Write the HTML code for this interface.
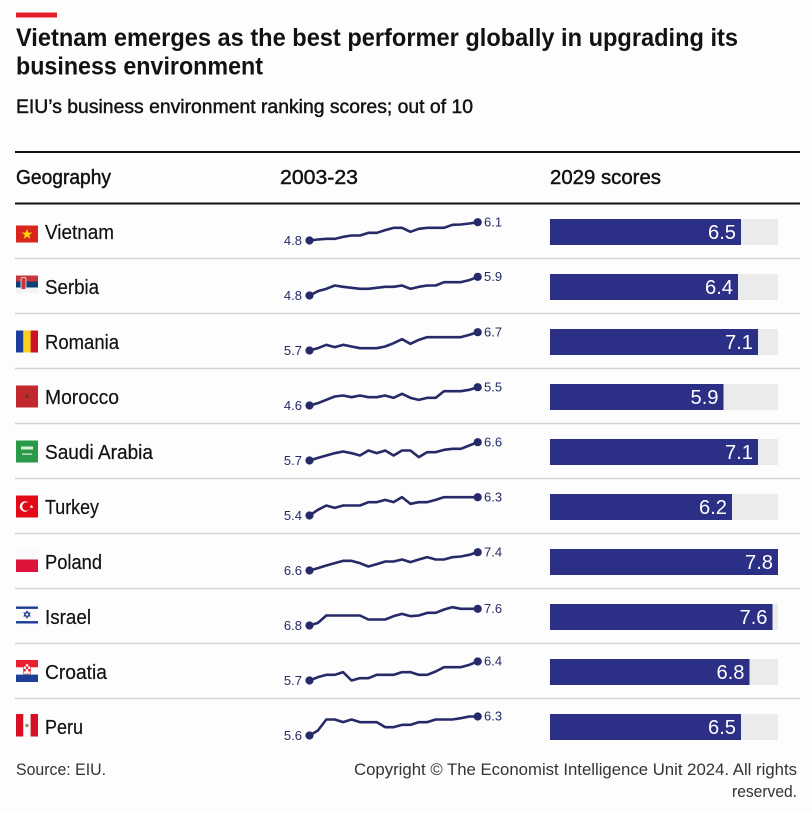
<!DOCTYPE html>
<html><head><meta charset="utf-8"><style>
html,body{margin:0;padding:0;background:#fdfdfd;}
svg{display:block;}
text{font-family:"Liberation Sans",Arial,sans-serif;}
.t{fill:#121212;}
.m{stroke:#121212;stroke-width:0.45;}
.sp{fill:none;stroke:#262a68;stroke-width:2.6;stroke-linejoin:round;stroke-linecap:round;vector-effect:non-scaling-stroke;}
.lab{font-size:13px;fill:#262a68;}
.bl{font-size:20px;fill:#fff;}
.cn{font-size:20px;fill:#121212;stroke:#121212;stroke-width:0.2;}
</style></head><body>
<svg width="812" height="813" viewBox="0 0 812 813" xmlns="http://www.w3.org/2000/svg">
<rect width="812" height="813" fill="#fdfdfd"/>
<!-- header -->
<rect x="16" y="12.5" width="41" height="5" fill="#e3202a"/>
<text class="t" x="16" y="46" font-size="25" font-weight="bold" textLength="722" lengthAdjust="spacingAndGlyphs">Vietnam emerges as the best performer globally in upgrading its</text>
<text class="t" x="16" y="74.5" font-size="25" font-weight="bold" textLength="247" lengthAdjust="spacingAndGlyphs">business environment</text>
<text class="t m" x="16" y="113" font-size="19.5" textLength="457" lengthAdjust="spacingAndGlyphs">EIU’s business environment ranking scores; out of 10</text>

<line x1="15" y1="152" x2="800" y2="152" stroke="#111" stroke-width="2"/>
<text class="t m" x="16" y="184" font-size="20" textLength="95" lengthAdjust="spacingAndGlyphs">Geography</text>
<text class="t m" x="280" y="184" font-size="20" textLength="78" lengthAdjust="spacingAndGlyphs">2003-23</text>
<text class="t m" x="550" y="184" font-size="20" textLength="111" lengthAdjust="spacingAndGlyphs">2029 scores</text>
<line x1="15" y1="203.5" x2="800" y2="203.5" stroke="#111" stroke-width="2"/>

<!-- separators -->
<g stroke="#d3d3d3" stroke-width="1.5">
<line x1="15" y1="258.5" x2="800" y2="258.5"/>
<line x1="15" y1="313.5" x2="800" y2="313.5"/>
<line x1="15" y1="368.5" x2="800" y2="368.5"/>
<line x1="15" y1="423.5" x2="800" y2="423.5"/>
<line x1="15" y1="478.5" x2="800" y2="478.5"/>
<line x1="15" y1="533.5" x2="800" y2="533.5"/>
<line x1="15" y1="588.5" x2="800" y2="588.5"/>
<line x1="15" y1="643.5" x2="800" y2="643.5"/>
<line x1="15" y1="698.5" x2="800" y2="698.5"/>
</g>

<!-- flags -->
<g transform="translate(16,225.5)">
<rect width="22" height="17" fill="#da251d"/>
<polygon points="11,3.2 12.3,7.1 16.3,7.1 13.1,9.5 14.3,13.4 11,11 7.7,13.4 8.9,9.5 5.7,7.1 9.7,7.1" fill="#ffde00"/>
</g>
<g transform="translate(16,275.5)">
<rect width="22" height="6" fill="#c6363c"/>
<rect y="6" width="22" height="6" fill="#0c4076"/>
<rect y="12" width="22" height="6" fill="#f4f4f4"/>
<rect x="5" y="2" width="5" height="12" rx="1.5" fill="#c6363c" stroke="#eee" stroke-width="0.8"/>
</g>
<g transform="translate(16,330.5)">
<rect width="7.4" height="22" fill="#1a3e9a"/>
<rect x="7.3" width="7.4" height="22" fill="#fcd116"/>
<rect x="14.6" width="7.4" height="22" fill="#ce1126"/>
</g>
<g transform="translate(16,385.5)">
<rect width="22" height="22" fill="#c1272d"/>
<circle cx="11" cy="11" r="1.6" fill="#5a3a2a"/>
</g>
<g transform="translate(16,440.5)">
<rect width="22" height="22" fill="#2a9a48"/>
<rect x="5" y="6" width="12" height="3" fill="#d8f0dc"/>
<rect x="6" y="13" width="10" height="1.2" fill="#e8f6ea"/>
</g>
<g transform="translate(16,495.5)">
<rect width="22" height="22" fill="#e30a17"/>
<circle cx="9" cy="11" r="5.2" fill="#fff"/>
<circle cx="10.4" cy="11" r="4.2" fill="#e30a17"/>
<polygon points="15.5,9 16,10.5 17.5,10.6 16.3,11.5 16.8,13 15.5,12.1 14.2,13 14.7,11.5 13.5,10.6 15,10.5" fill="#fff"/>
</g>
<g transform="translate(16,548)">
<rect width="22" height="12" fill="#fafafa"/>
<rect y="11.5" width="22" height="12.5" fill="#dc143c"/>
</g>
<g transform="translate(16,605.5)">
<rect width="22" height="19" fill="#fbfbfb"/>
<rect y="1" width="22" height="2.4" fill="#1b3a93"/>
<rect y="15.6" width="22" height="2.4" fill="#1b3a93"/>
<polygon points="11,5.5 14,10.5 8,10.5" fill="none" stroke="#1b3a93" stroke-width="0.9"/>
<polygon points="11,12.5 14,7.5 8,7.5" fill="none" stroke="#1b3a93" stroke-width="0.9"/>
</g>
<g transform="translate(16,660)">
<rect width="22" height="7.5" fill="#e8202e"/>
<rect y="7.3" width="22" height="7.4" fill="#fff"/>
<rect y="14.6" width="22" height="7.4" fill="#1d3f98"/>
<rect x="7.5" y="4" width="7" height="10" fill="#fff" stroke="#c33" stroke-width="0.6"/>
<rect x="7.5" y="4" width="2.3" height="2.5" fill="#e8202e"/>
<rect x="12.2" y="4" width="2.3" height="2.5" fill="#e8202e"/>
<rect x="9.8" y="6.5" width="2.4" height="2.5" fill="#e8202e"/>
<rect x="7.5" y="9" width="2.3" height="2.5" fill="#e8202e"/>
<rect x="12.2" y="9" width="2.3" height="2.5" fill="#e8202e"/>
</g>
<g transform="translate(16,714)">
<rect width="7.4" height="22.5" fill="#d91023"/>
<rect x="7.3" width="7.4" height="22.5" fill="#fafafa"/>
<rect x="14.6" width="7.4" height="22.5" fill="#d91023"/>
<circle cx="11" cy="11.5" r="1.8" fill="#8aa06a"/>
</g>

<!-- country names -->
<text class="cn" x="45" y="239" textLength="69" lengthAdjust="spacingAndGlyphs">Vietnam</text>
<text class="cn" x="45" y="294" textLength="54" lengthAdjust="spacingAndGlyphs">Serbia</text>
<text class="cn" x="45" y="349" textLength="74" lengthAdjust="spacingAndGlyphs">Romania</text>
<text class="cn" x="45" y="404" textLength="74" lengthAdjust="spacingAndGlyphs">Morocco</text>
<text class="cn" x="45" y="459" textLength="108" lengthAdjust="spacingAndGlyphs">Saudi Arabia</text>
<text class="cn" x="45" y="514" textLength="54" lengthAdjust="spacingAndGlyphs">Turkey</text>
<text class="cn" x="45" y="569" textLength="57" lengthAdjust="spacingAndGlyphs">Poland</text>
<text class="cn" x="45" y="624" textLength="46" lengthAdjust="spacingAndGlyphs">Israel</text>
<text class="cn" x="45" y="679" textLength="62" lengthAdjust="spacingAndGlyphs">Croatia</text>
<text class="cn" x="45" y="734" textLength="38" lengthAdjust="spacingAndGlyphs">Peru</text>

<!-- sparklines -->
<g transform="translate(309.5,240.5) scale(8.41,-0.3333)"><polyline class="sp" points="0,0 1,3 2,5 3,5 4,11 5,15 6,15 7,23 8,23 9,31 10,38 11,38 12,26 13,35 14,38 15,38 16,38 17,47 18,48 19,51 20,55"/></g>
<g transform="translate(309.5,295.5) scale(8.41,-0.3333)"><polyline class="sp" points="0,0 1,13 2,20 3,30 4,26 5,23 6,20 7,20 8,23 9,26 10,26 11,30 12,20 13,26 14,30 15,30 16,40 17,40 18,40 19,46 20,56"/></g>
<g transform="translate(309.5,350.5) scale(8.41,-0.3333)"><polyline class="sp" points="0,0 1,7 2,17 3,10 4,17 5,12 6,7 7,7 8,7 9,12 10,22 11,34 12,20 13,32 14,40 15,40 16,40 17,40 18,40 19,47 20,55"/></g>
<g transform="translate(309.5,405.5) scale(8.41,-0.3333)"><polyline class="sp" points="0,0 1,7 2,17 3,27 4,30 5,25 6,30 7,25 8,25 9,30 10,23 11,35 12,23 13,17 14,23 15,23 16,43 17,43 18,43 19,47 20,55"/></g>
<g transform="translate(309.5,460.5) scale(8.41,-0.3333)"><polyline class="sp" points="0,0 1,8 2,15 3,22 4,27 5,22 6,15 7,30 8,22 9,30 10,15 11,30 12,30 13,10 14,25 15,25 16,32 17,35 18,35 19,45 20,55"/></g>
<g transform="translate(309.5,515.5) scale(8.41,-0.3333)"><polyline class="sp" points="0,0 1,17 2,30 3,23 4,30 5,30 6,30 7,40 8,40 9,47 10,40 11,55 12,35 13,40 14,40 15,47 16,55 17,55 18,55 19,55 20,55"/></g>
<g transform="translate(309.5,570.5) scale(8.41,-0.3333)"><polyline class="sp" points="0,0 1,7 2,15 3,22 4,29 5,29 6,22 7,12 8,19 9,27 10,27 11,33 12,25 13,33 14,40 15,33 16,33 17,40 18,42 19,47 20,55"/></g>
<g transform="translate(309.5,625.5) scale(8.41,-0.3333)"><polyline class="sp" points="0,0 1,8 2,30 3,30 4,30 5,30 6,30 7,18 8,18 9,18 10,28 11,35 12,28 13,30 14,38 15,38 16,48 17,55 18,50 19,50 20,50"/></g>
<g transform="translate(309.5,680.5) scale(8.41,-0.3333)"><polyline class="sp" points="0,0 1,10 2,17 3,17 4,25 5,0 6,7 7,7 8,17 9,17 10,17 11,25 12,25 13,17 14,17 15,27 16,40 17,40 18,40 19,47 20,57"/></g>
<g transform="translate(309.5,735.5) scale(8.41,-0.3333)"><polyline class="sp" points="0,0 1,15 2,48 3,48 4,40 5,48 6,40 7,40 8,40 9,25 10,25 11,32 12,32 13,40 14,40 15,48 16,48 17,48 18,52 19,57 20,57"/></g>

<g fill="#262a68">
<circle cx="309.5" cy="240.5" r="4.1"/><circle cx="477.7" cy="222.2" r="4.1"/>
<circle cx="309.5" cy="295.5" r="4.1"/><circle cx="477.7" cy="276.8" r="4.1"/>
<circle cx="309.5" cy="350.5" r="4.1"/><circle cx="477.7" cy="332.2" r="4.1"/>
<circle cx="309.5" cy="405.5" r="4.1"/><circle cx="477.7" cy="387.2" r="4.1"/>
<circle cx="309.5" cy="460.5" r="4.1"/><circle cx="477.7" cy="442.2" r="4.1"/>
<circle cx="309.5" cy="515.5" r="4.1"/><circle cx="477.7" cy="497.2" r="4.1"/>
<circle cx="309.5" cy="570.5" r="4.1"/><circle cx="477.7" cy="552.2" r="4.1"/>
<circle cx="309.5" cy="625.5" r="4.1"/><circle cx="477.7" cy="608.8" r="4.1"/>
<circle cx="309.5" cy="680.5" r="4.1"/><circle cx="477.7" cy="661.5" r="4.1"/>
<circle cx="309.5" cy="735.5" r="4.1"/><circle cx="477.7" cy="716.5" r="4.1"/>
</g>

<g class="lab" text-anchor="end">
<text x="302" y="245">4.8</text>
<text x="302" y="300">4.8</text>
<text x="302" y="355">5.7</text>
<text x="302" y="410">4.6</text>
<text x="302" y="465">5.7</text>
<text x="302" y="520">5.4</text>
<text x="302" y="575">6.6</text>
<text x="302" y="630">6.8</text>
<text x="302" y="685">5.7</text>
<text x="302" y="740">5.6</text>
</g>
<g class="lab">
<text x="484" y="226.5">6.1</text>
<text x="484" y="281">5.9</text>
<text x="484" y="336.5">6.7</text>
<text x="484" y="391.5">5.5</text>
<text x="484" y="446.5">6.6</text>
<text x="484" y="501.5">6.3</text>
<text x="484" y="556.5">7.4</text>
<text x="484" y="613">7.6</text>
<text x="484" y="665.5">6.4</text>
<text x="484" y="720.5">6.3</text>
</g>

<!-- bars -->
<g fill="#ebebeb">
<rect x="550" y="219" width="228" height="26"/>
<rect x="550" y="274" width="228" height="26"/>
<rect x="550" y="329" width="228" height="26"/>
<rect x="550" y="384" width="228" height="26"/>
<rect x="550" y="439" width="228" height="26"/>
<rect x="550" y="494" width="228" height="26"/>
<rect x="550" y="549" width="228" height="26"/>
<rect x="550" y="604" width="228" height="26"/>
<rect x="550" y="659" width="228" height="26"/>
<rect x="550" y="714" width="228" height="26"/>
</g>
<g fill="#2b2f86">
<rect x="550" y="219" width="191" height="26"/>
<rect x="550" y="274" width="188" height="26"/>
<rect x="550" y="329" width="208" height="26"/>
<rect x="550" y="384" width="173.5" height="26"/>
<rect x="550" y="439" width="208" height="26"/>
<rect x="550" y="494" width="182" height="26"/>
<rect x="550" y="549" width="228" height="26"/>
<rect x="550" y="604" width="222.5" height="26"/>
<rect x="550" y="659" width="199.5" height="26"/>
<rect x="550" y="714" width="191" height="26"/>
</g>
<g class="bl">
<text x="708" y="239" textLength="28" lengthAdjust="spacingAndGlyphs">6.5</text>
<text x="705" y="294" textLength="28" lengthAdjust="spacingAndGlyphs">6.4</text>
<text x="725" y="349" textLength="28" lengthAdjust="spacingAndGlyphs">7.1</text>
<text x="690.5" y="404" textLength="28" lengthAdjust="spacingAndGlyphs">5.9</text>
<text x="725" y="459" textLength="28" lengthAdjust="spacingAndGlyphs">7.1</text>
<text x="699" y="514" textLength="28" lengthAdjust="spacingAndGlyphs">6.2</text>
<text x="745" y="569" textLength="28" lengthAdjust="spacingAndGlyphs">7.8</text>
<text x="739.5" y="624" textLength="28" lengthAdjust="spacingAndGlyphs">7.6</text>
<text x="716.5" y="679" textLength="28" lengthAdjust="spacingAndGlyphs">6.8</text>
<text x="708" y="734" textLength="28" lengthAdjust="spacingAndGlyphs">6.5</text>
</g>

<!-- footer -->
<text x="16" y="775" font-size="17" fill="#333" textLength="90" lengthAdjust="spacingAndGlyphs">Source: EIU.</text>
<text x="354" y="775" font-size="17" fill="#333" textLength="443" lengthAdjust="spacingAndGlyphs">Copyright © The Economist Intelligence Unit 2024. All rights</text>
<text x="732" y="797" font-size="17" fill="#333" textLength="65" lengthAdjust="spacingAndGlyphs">reserved.</text>
</svg>
</body></html>
